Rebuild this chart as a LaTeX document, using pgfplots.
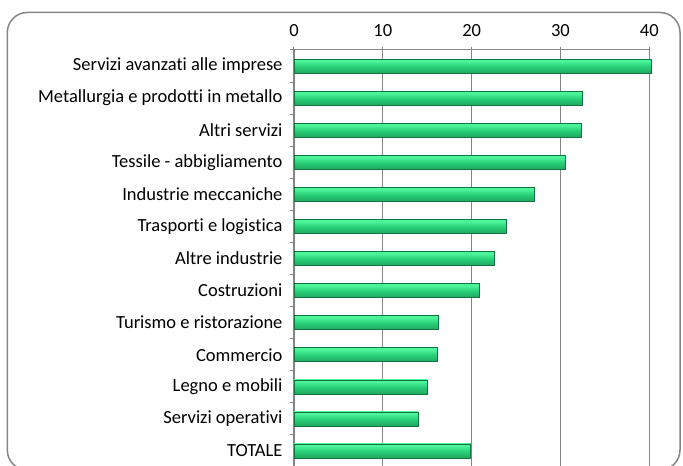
\documentclass[border=0pt]{standalone}
\usepackage{pgfplots}
\pgfplotsset{compat=1.18}
\usepackage{fontspec}
\setmainfont{Carlito}[Ligatures=CommonOff]
\definecolor{framegray}{RGB}{134,134,134}
\definecolor{gridgray}{RGB}{134,134,134}
\definecolor{barlight}{RGB}{75,245,155}
\definecolor{barmid}{RGB}{42,210,122}
\definecolor{barlow}{RGB}{32,175,100}
\definecolor{bardark}{RGB}{24,140,78}
\definecolor{baredge}{RGB}{20,115,62}
\pgfdeclareverticalshading{barshade}{100bp}{color(0bp)=(bardark); color(30bp)=(barlow); color(50bp)=(barmid); color(68bp)=(barlight); color(82bp)=(barlight); color(100bp)=(barmid)}
\begin{document}
\begin{tikzpicture}
\draw[framegray, line width=1.5pt, rounded corners=20pt] (7.3pt,-4pt) rectangle (680pt,453.5pt);
\begin{axis}[
  at={(294pt,-1pt)}, anchor=south west,
  scale only axis, width=355.3pt, height=417pt,
  xmin=0, xmax=40, ymin=-0.5, ymax=12.5,
  clip=false,
  axis x line*=top, axis y line*=left,
  axis line style={gridgray, line width=1pt},
  xtick={0,10,20,30,40},
  xmajorgrids, grid style={gridgray, line width=1.2pt},
  ytick={0,...,12},
  yticklabels={TOTALE, Servizi operativi, Legno e mobili, Commercio, Turismo e ristorazione, Costruzioni, Altre industrie, Trasporti e logistica, Industrie meccaniche, Tessile - abbigliamento, Altri servizi, Metallurgia e prodotti in metallo, Servizi avanzati alle imprese},
  minor ytick={-0.5,0.5,...,12.5},
  major y tick style={draw=none},
  minor y tick style={gridgray, line width=1pt},
  major x tick style={gridgray, line width=1pt},
  tick align=outside,
  major tick length=3pt, minor tick length=4pt,
  tick label style={font=\fontsize{18.5}{21}\selectfont, black},
  /pgf/number format/assume math mode=true,
  yticklabel style={xshift=-5pt},
  xticklabel style={yshift=7pt},
  mybar/.style={xbar, bar shift=0pt, bar width=14pt, draw=baredge, line width=0.6pt,
    shade, shading=barshade},
]
\addplot[mybar] coordinates {(19.9,0)};
\addplot[mybar] coordinates {(14.0,1)};
\addplot[mybar] coordinates {(15.0,2)};
\addplot[mybar] coordinates {(16.1,3)};
\addplot[mybar] coordinates {(16.2,4)};
\addplot[mybar] coordinates {(20.9,5)};
\addplot[mybar] coordinates {(22.6,6)};
\addplot[mybar] coordinates {(23.9,7)};
\addplot[mybar] coordinates {(27.0,8)};
\addplot[mybar] coordinates {(30.5,9)};
\addplot[mybar] coordinates {(32.4,10)};
\addplot[mybar] coordinates {(32.5,11)};
\addplot[mybar] coordinates {(40.2,12)};
\end{axis}
\pgfresetboundingbox
\path[use as bounding box] (0,0) rectangle (683pt,466pt);
\end{tikzpicture}
\end{document}
